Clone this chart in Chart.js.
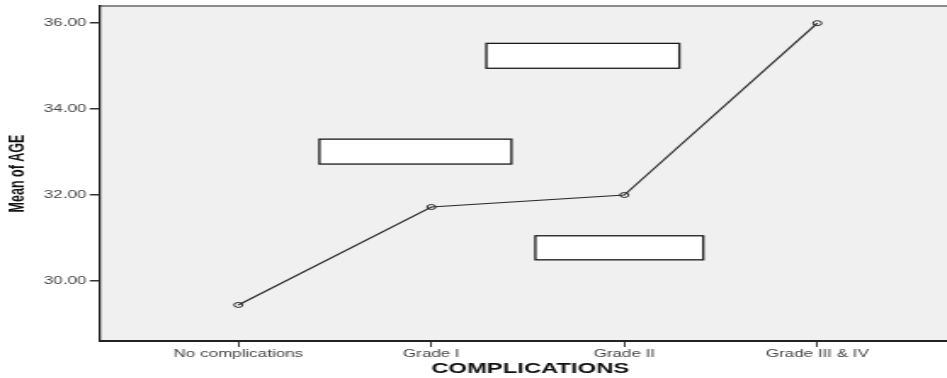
<!DOCTYPE html>
<html>
<head>
<meta charset="utf-8">
<script src="https://cdn.jsdelivr.net/npm/chart.js@4"></script>
<style>
  html, body { margin: 0; padding: 0; background: #fff; overflow: hidden; }
  /* the source plot is stretched sideways, so the canvas is too */
  #wrap { width: 565px; height: 378px; transform: scaleX(1.7); transform-origin: 0 0; }
</style>
</head>
<body>
<div id="wrap"><canvas id="meanPlot" width="565" height="378"></canvas></div>
<script>
// chart data
const categories = ["No complications", "Grade I", "Grade II", "Grade III & IV"];
const meanAge = [29.44, 31.72, 32.0, 36.0];
const yTicks = [30, 32, 34, 36];

// blank label boxes on the plot, in data units
const boxX1 = [1.285, 0.42, 1.539];
const boxX2 = [2.285, 1.415, 2.409];
const boxY1 = [35.53, 33.3, 31.05];
const boxY2 = [34.95, 32.72, 30.49];

const points = meanAge.map((v, i) => ({ x: i, y: v }));

// grey plot background, top frame line and the white boxes
const plotFrame = {
    id: "plotFrame",
    beforeDraw(chart) {
        const { ctx, chartArea } = chart;
        ctx.save();
        ctx.fillStyle = "#f0f0f0";
        ctx.fillRect(chartArea.left, chartArea.top, chartArea.right - chartArea.left, chartArea.bottom - chartArea.top);
        ctx.strokeStyle = "#8a8a8a";
        ctx.lineWidth = 2;
        ctx.beginPath();
        ctx.moveTo(chartArea.left, chartArea.top);
        ctx.lineTo(chartArea.right, chartArea.top);
        ctx.stroke();
        ctx.restore();
    },
    afterDatasetsDraw(chart) {
        const { ctx, scales } = chart;
        ctx.save();
        ctx.fillStyle = "#ffffff";
        ctx.strokeStyle = "#1a1a1a";
        ctx.lineWidth = 1.3;
        for (let i = 0; i < boxX1.length; i++) {
            const x1 = scales.x.getPixelForValue(boxX1[i]);
            const x2 = scales.x.getPixelForValue(boxX2[i]);
            const y1 = scales.y.getPixelForValue(boxY1[i]);
            const y2 = scales.y.getPixelForValue(boxY2[i]);
            ctx.fillRect(x1, y1, x2 - x1, y2 - y1);
            ctx.strokeRect(x1, y1, x2 - x1, y2 - y1);
        }
        ctx.restore();
    }
};

const ctx = document.getElementById("meanPlot").getContext("2d");
new Chart(ctx, {
    type: "line",
    data: {
        datasets: [
            {
                label: "Mean of AGE",
                data: points,
                borderColor: "#2b2b2b",
                borderWidth: 1.2,
                pointStyle: "circle",
                pointRadius: 2.5,
                pointBorderWidth: 1,
                pointBorderColor: "#2b2b2b",
                pointBackgroundColor: "rgba(0,0,0,0)",
                tension: 0,
                fill: false,
            },
        ],
    },
    options: {
        responsive: false,
        animation: false,
        devicePixelRatio: 1,
        layout: { autoPadding: false, padding: { top: 6, right: 0, left: 0, bottom: 0 } },
        plugins: { legend: { display: false }, tooltip: { enabled: false } },
        scales: {
            x: {
                type: "linear",
                min: -0.717,
                max: 3.742,
                afterBuildTicks: (scale) => {
                    scale.ticks = categories.map((_, i) => ({ value: i }));
                },
                afterFit: (scale) => {
                    scale.height = 37;
                    scale.paddingLeft = 0;
                    scale.paddingRight = 0;
                },
                ticks: {
                    callback: (v) => categories[v] ?? "",
                    color: "#444",
                    font: { family: "Arial, 'Liberation Sans'", size: 10 },
                    padding: 1,
                    maxRotation: 0,
                    autoSkip: false,
                },
                grid: { drawOnChartArea: false, tickLength: 6, color: "#333", lineWidth: 1 },
                border: { display: true, color: "#222", width: 2 },
                title: {
                    display: true,
                    text: "COMPLICATIONS",
                    color: "#111",
                    font: { family: "Arial, 'Liberation Sans'", size: 14, weight: "bold" },
                    padding: { top: 0, bottom: 0 },
                },
            },
            y: {
                min: 28.6,
                max: 36.4,
                afterBuildTicks: (scale) => {
                    scale.ticks = yTicks.map((v) => ({ value: v }));
                },
                afterFit: (scale) => {
                    scale.width = 58.8;
                    scale.paddingTop = 0;
                    scale.paddingBottom = 0;
                },
                ticks: {
                    callback: (v) => v.toFixed(2),
                    color: "#444",
                    font: { family: "Arial, 'Liberation Sans'", size: 10 },
                    padding: 2,
                },
                grid: { drawOnChartArea: false, tickLength: 6, color: "#333", lineWidth: 1.5 },
                border: { display: true, color: "#222", width: 1.3 },
                title: {
                    display: true,
                    text: "Mean of AGE",
                    color: "#111",
                    font: { family: "Arial, 'Liberation Sans'", size: 12.5, weight: "bold" },
                    padding: { top: 3, bottom: 0 },
                },
            },
        },
    },
    plugins: [plotFrame],
});
</script>
</body>
</html>
